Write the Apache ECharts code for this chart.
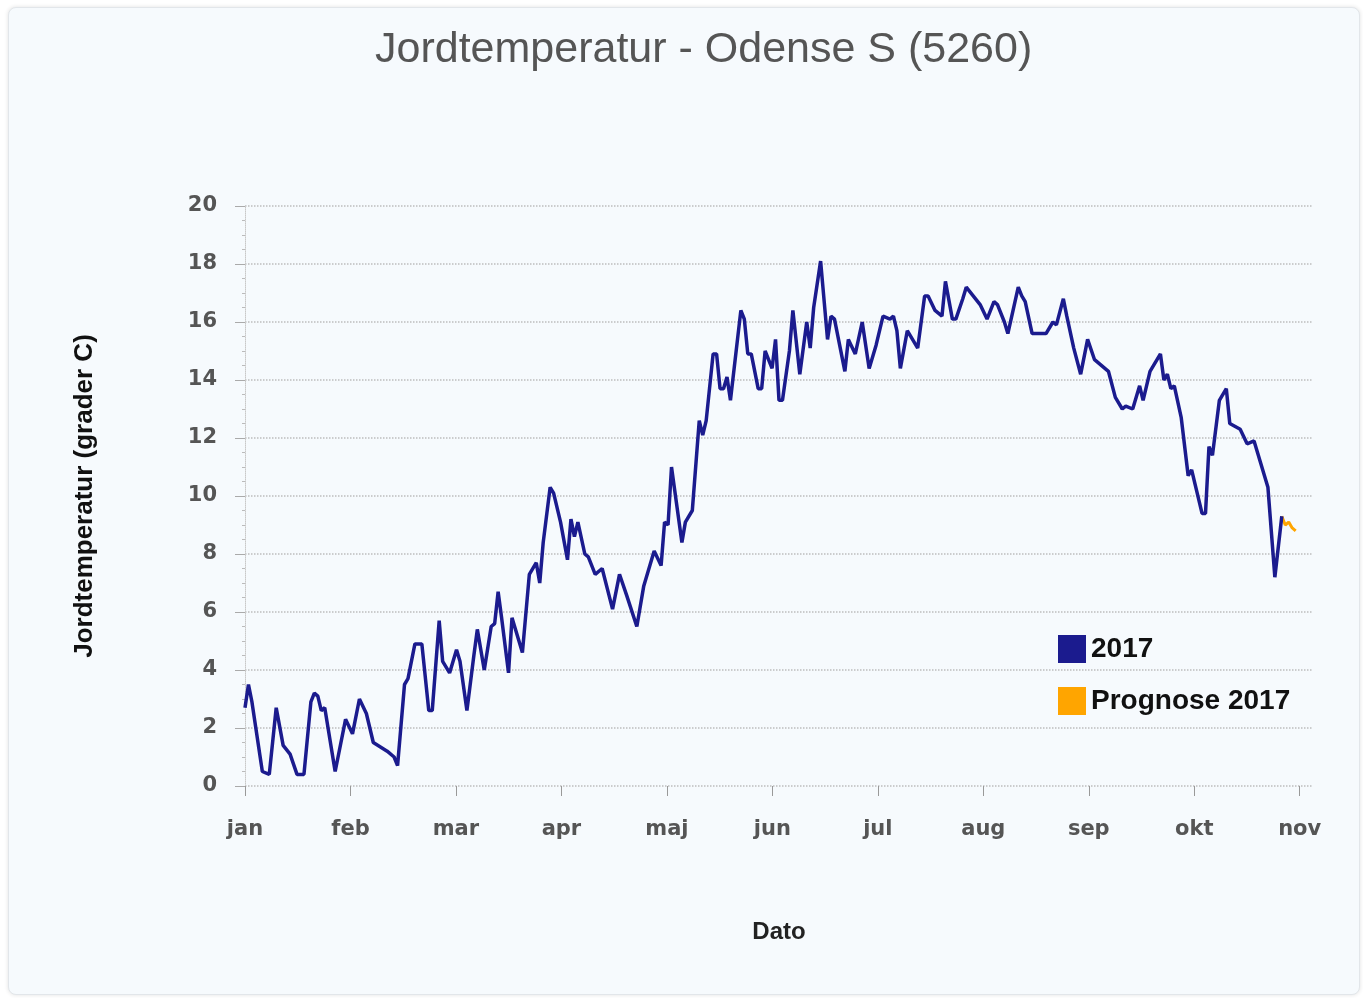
<!DOCTYPE html>
<html>
<head>
<meta charset="utf-8">
<title>Jordtemperatur - Odense S (5260)</title>
<script src="https://cdn.jsdelivr.net/npm/echarts@6/dist/echarts.min.js"></script>
<style>
  html, body { margin: 0; padding: 0; background: #ffffff; }
  #ramme {
    position: absolute; left: 8px; top: 7px; width: 1350px; height: 986px;
    background: #f6fafd; border: 1px solid #e2e6ea; border-radius: 8px;
    box-shadow: 0 0 4px rgba(0,0,0,0.12);
  }
  #chart { position: absolute; left: 0; top: 0; width: 1363px; height: 998px; }
</style>
</head>
<body>
<div id="ramme"></div>
<div id="chart"></div>
<script>
// maaneder (aksemaerker)
const maaneder = ["jan", "feb", "mar", "apr", "maj", "jun", "jul", "aug", "sep", "okt", "nov"];

// 2017 - dag i aaret (0 = 1. jan) og jordtemperatur
const dag2017 = [
  0, 1, 2, 5, 7, 9, 11, 13, 15, 17, 19, 20, 21, 22, 23, 26, 29, 31, 33, 35,
  37, 41, 43, 44, 46, 47, 49, 51, 53, 54, 56, 57, 59, 61, 62, 64, 66, 67, 69, 71,
  72, 73, 74, 76, 77, 80, 82, 84, 85, 86, 88, 89, 91, 93, 94, 95, 96, 98, 99, 101,
  103, 106, 108, 110, 113, 115, 118, 120, 121, 122, 123, 126, 127, 129, 131, 132, 133, 135, 136, 137,
  138, 139, 140, 143, 144, 145, 146, 148, 149, 150, 152, 153, 154, 155, 157, 158, 160, 162, 163, 164,
  166, 168, 169, 170, 173, 174, 176, 178, 180, 182, 184, 186, 187, 188, 189, 191, 194, 196, 197, 199,
  201, 202, 204, 205, 207, 208, 210, 212, 214, 216, 217, 219, 220, 223, 224, 225, 227, 229, 231, 233,
  234, 236, 237, 239, 241, 243, 245, 249, 251, 253, 254, 256, 258, 259, 261, 264, 265, 266, 267, 268,
  270, 272, 273, 274, 276, 277, 278, 279, 281, 283, 284, 287, 289, 291, 295, 297, 299
];
const temp2017 = [
  2.7, 3.5, 2.9, 0.5, 0.4, 2.7, 1.4, 1.1, 0.4, 0.4, 2.9, 3.2, 3.1, 2.6, 2.7, 0.5, 2.3, 1.8, 3.0, 2.5,
  1.5, 1.2, 1.0, 0.7, 3.5, 3.7, 4.9, 4.9, 2.6, 2.6, 5.7, 4.3, 3.9, 4.7, 4.3, 2.6, 4.5, 5.4, 4.0, 5.5,
  5.6, 6.7, 5.8, 3.9, 5.8, 4.6, 7.3, 7.7, 7.0, 8.4, 10.3, 10.1, 9.1, 7.8, 9.2, 8.6, 9.1, 8.0, 7.9, 7.3,
  7.5, 6.1, 7.3, 6.6, 5.5, 6.9, 8.1, 7.6, 9.1, 9.0, 11.0, 8.4, 9.1, 9.5, 12.6, 12.1, 12.6, 14.9, 14.9, 13.7,
  13.7, 14.1, 13.3, 16.4, 16.1, 14.9, 14.9, 13.7, 13.7, 15.0, 14.4, 15.4, 13.3, 13.3, 15.0, 16.4, 14.2, 16.0, 15.1, 16.5,
  18.1, 15.4, 16.2, 16.1, 14.3, 15.4, 14.9, 16.0, 14.4, 15.2, 16.2, 16.1, 16.2, 15.7, 14.4, 15.7, 15.1, 16.9, 16.9, 16.4,
  16.2, 17.4, 16.1, 16.1, 16.8, 17.2, 16.9, 16.6, 16.1, 16.7, 16.6, 16.0, 15.6, 17.2, 16.9, 16.7, 15.6, 15.6, 15.6, 16.0,
  15.9, 16.8, 16.2, 15.1, 14.2, 15.4, 14.7, 14.3, 13.4, 13.0, 13.1, 13.0, 13.8, 13.3, 14.3, 14.9, 14.0, 14.2, 13.7, 13.8,
  12.7, 10.7, 10.9, 10.4, 9.4, 9.4, 11.7, 11.4, 13.3, 13.7, 12.5, 12.3, 11.8, 11.9, 10.3, 7.2, 9.3
];

// Prognose 2017
const dagPrognose = [299, 300, 301, 302, 303];
const tempPrognose = [9.3, 9.0, 9.1, 8.9, 8.8];

// y-akse
const yMin = 0, yMax = 20, yStep = 2;

const dageIMaaned = 365 / 12;

function par(xs, ys) {
  return xs.map(function (x, i) { return [x, ys[i]]; });
}

const chart = echarts.init(document.getElementById("chart"), null, { renderer: "canvas" });

const option = {
  backgroundColor: "transparent",
  animation: false,
  title: {
    text: "Jordtemperatur - Odense S (5260)",
    left: 370,
    top: 24,
    textStyle: {
      fontFamily: "'Liberation Sans', sans-serif",
      fontWeight: "normal",
      fontSize: 43,
      color: "#555555"
    }
  },
  legend: {
    orient: "vertical",
    left: 1053,
    top: 630,
    itemWidth: 28,
    itemHeight: 28,
    itemGap: 24,
    icon: "rect",
    data: ["2017", "Prognose 2017"],
    textStyle: {
      fontFamily: "'Liberation Sans', sans-serif",
      fontWeight: "bold",
      fontSize: 28,
      color: "#111111"
    }
  },
  grid: {
    left: 245,
    right: 50,
    top: 206,
    bottom: 212,
    containLabel: false
  },
  xAxis: {
    type: "value",
    min: 0,
    max: 308,
    interval: dageIMaaned,
    name: "Dato",
    nameLocation: "middle",
    nameGap: 134,
    nameTextStyle: {
      fontFamily: "'Liberation Sans', sans-serif",
      fontWeight: "bold",
      fontSize: 24,
      color: "#222222"
    },
    axisLine: { show: false },
    axisTick: { show: true, length: 10, lineStyle: { color: "#999999" } },
    splitLine: { show: false },
    axisLabel: {
      margin: 33,
      showMaxLabel: false,
      fontFamily: "'DejaVu Sans', sans-serif",
      fontWeight: "bold",
      fontSize: 21,
      color: "#555555",
      formatter: function (v) {
        const i = Math.round(v / dageIMaaned);
        if (Math.abs(v - i * dageIMaaned) > 0.5) return "";
        return maaneder[i] || "";
      }
    }
  },
  yAxis: {
    type: "value",
    min: yMin,
    max: yMax,
    interval: yStep,
    name: "Jordtemperatur (grader C)",
    nameLocation: "middle",
    nameGap: 147,
    nameTextStyle: {
      fontFamily: "'Liberation Sans', sans-serif",
      fontWeight: "bold",
      fontSize: 26,
      color: "#111111"
    },
    axisLine: { show: true, lineStyle: { color: "#c8c8c8", type: "dotted" } },
    axisTick: { show: true, length: 10, lineStyle: { color: "#aaaaaa" } },
    minorTick: { show: true, splitNumber: 4, length: 3, lineStyle: { color: "#bbbbbb" } },
    splitLine: { show: true, lineStyle: { color: "#bdbdbd", type: "dotted", width: 1.5 } },
    axisLabel: {
      margin: 28,
      fontFamily: "'DejaVu Sans', sans-serif",
      fontWeight: "bold",
      fontSize: 21,
      color: "#555555"
    }
  },
  series: [
    {
      name: "2017",
      type: "line",
      showSymbol: false,
      symbol: "none",
      data: par(dag2017, temp2017),
      color: "#1b1b8e",
      lineStyle: { width: 3.5, color: "#1b1b8e" },
      z: 3
    },
    {
      name: "Prognose 2017",
      type: "line",
      showSymbol: false,
      symbol: "none",
      data: par(dagPrognose, tempPrognose),
      color: "#ffa500",
      lineStyle: { width: 3, color: "#ffa500" },
      z: 2
    }
  ]
};

chart.setOption(option);
</script>
</body>
</html>
